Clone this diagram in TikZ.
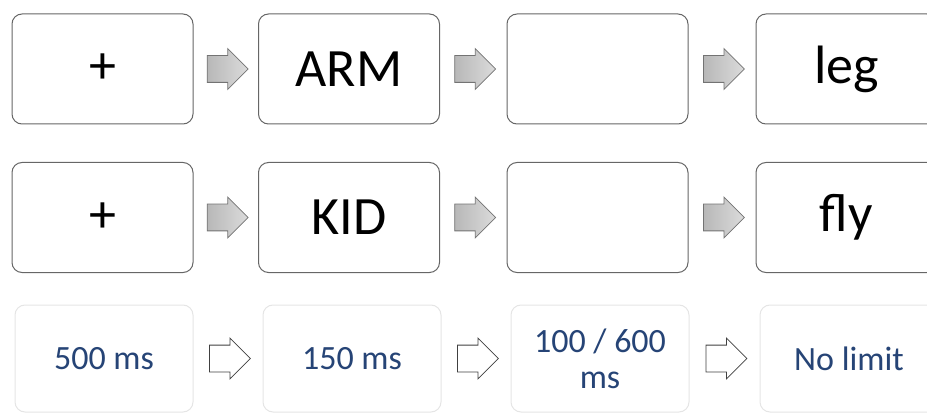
\documentclass[tikz,border=0pt]{standalone}
\usepackage{fontspec}
\setmainfont{Carlito}
\usetikzlibrary{shapes.arrows,calc}
\definecolor{msblue}{RGB}{38,68,118}
\tikzset{
  stimbox/.style={draw=black!60, line width=1pt, rounded corners=10pt, fill=white,
    minimum width=181pt, minimum height=110pt, inner sep=0pt, font=\fontsize{54}{60}\selectfont},
  timebox/.style={draw=black!10, line width=1pt, rounded corners=10pt, fill=white,
    minimum width=178pt, minimum height=107pt, inner sep=0pt, text=msblue, align=center,
    font=\fontsize{34}{36}\selectfont},
  grayarrow/.style={single arrow, draw=black!55, left color=black!28, right color=black!14,
    line width=0.8pt, minimum height=41pt, minimum width=40pt, single arrow head extend=7pt,
    inner xsep=0pt, inner ysep=13pt, anchor=tail, xshift=-19pt},
  whitearrow/.style={grayarrow, left color=white, right color=white, draw=black!75}
}
\begin{document}
\begin{tikzpicture}[x=1pt,y=1pt]
  \useasboundingbox (0,0) rectangle (927,413);
  \clip (0,0) rectangle (927,413);
  % First trial
  \foreach \x/\t [count=\i] in {102.5/+, 349/ARM, 597.5/{}, 846.5/leg}
    \node[stimbox] (a\i) at (\x,344) {\t};
  % Second trial
  \foreach \x/\t [count=\i] in {102.5/+, 349/KID, 597.5/{}, 846.5/fly}
    \node[stimbox] (b\i) at (\x,195.5) {\t};
  % Durations
  \node[timebox] (c1) at (104,54.5) {500 ms};
  \node[timebox] (c2) at (352,54.5) {150 ms};
  \node[timebox] (c3) at (600,54.5) {100 / 600\\ms};
  \node[timebox] (c4) at (849,54.5) {No limit};
  % Arrows between the screens
  \foreach \i/\j in {1/2,2/3,3/4}{
    \node[grayarrow] (ga\i) at ($(a\i.east)!0.5!(a\j.west)$) {};
    \node[grayarrow] (gb\i) at ($(b\i.east)!0.5!(b\j.west)$) {};
    \node[whitearrow] (wc\i) at ($(c\i.east)!0.5!(c\j.west)$) {};}
\end{tikzpicture}
\end{document}
